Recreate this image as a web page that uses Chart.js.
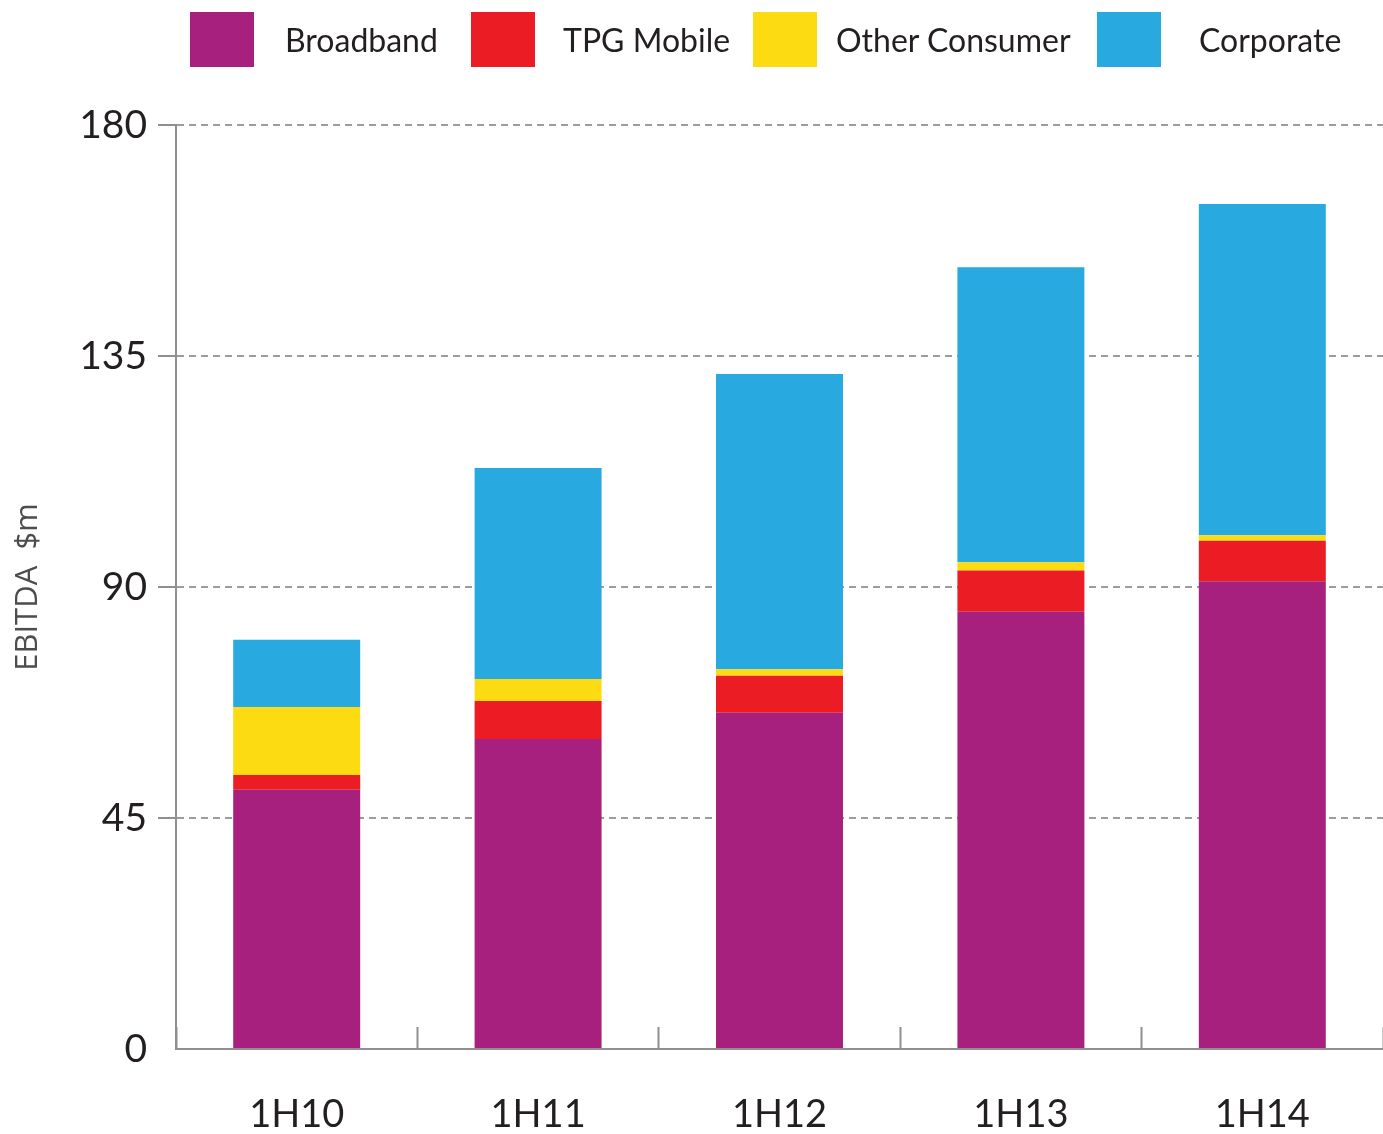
<!DOCTYPE html>
<html>
<head>
<meta charset="utf-8">
<script src="https://cdn.jsdelivr.net/npm/chart.js@4.4.0/dist/chart.umd.min.js"></script>
<style>
  body { margin: 0; background: #fff; }
  #wrap { position: relative; width: 1383px; height: 1134px; }
  #legend { position: absolute; left: 0; top: 0; width: 1383px; height: 80px; font-family: Lato, sans-serif; font-size: 32px; color: #231f20; }
  .sw { position: absolute; top: 12px; width: 64px; height: 55px; }
  .lbl { position: absolute; top: 21px; line-height: 38px; white-space: nowrap; }
</style>
</head>
<body>
<div id="wrap">
  <canvas id="chart" width="1383" height="1134"></canvas>
  <div id="legend"></div>
</div>
<script>
// EBITDA by segment, $m
const periods = ['1H10', '1H11', '1H12', '1H13', '1H14'];
const broadband = [50.5, 60.4, 65.5, 85.2, 91.1];
const tpgMobile = [2.9, 7.4, 7.2, 8.0, 7.9];
const otherConsumer = [13.2, 4.3, 1.3, 1.6, 1.1];
const corporate = [13.1, 41.1, 57.5, 57.5, 64.5];
const yTicks = [0, 45, 90, 135, 180];

const seriesNames = ['Broadband', 'TPG Mobile', 'Other Consumer', 'Corporate'];
const seriesColors = ['#a8207d', '#ec1c24', '#fddb13', '#28a9e0'];

// legend placement (box left, text left)
const legendBoxX = [190, 471, 753, 1097];
const legendTextX = [285, 563, 836, 1199];

const legend = document.getElementById('legend');
seriesNames.forEach((name, i) => {
  const sw = document.createElement('div');
  sw.className = 'sw';
  sw.style.left = legendBoxX[i] + 'px';
  sw.style.background = seriesColors[i];
  legend.appendChild(sw);
  const t = document.createElement('div');
  t.className = 'lbl';
  t.style.left = legendTextX[i] + 'px';
  t.textContent = name;
  legend.appendChild(t);
});

const gray = '#8f8f8f';
const allSeries = [broadband, tpgMobile, otherConsumer, corporate];

new Chart(document.getElementById('chart'), {
  type: 'bar',
  data: {
    labels: periods,
    datasets: allSeries.map((d, i) => ({
      label: seriesNames[i],
      data: d,
      backgroundColor: seriesColors[i],
      borderWidth: 0,
      barPercentage: 1,
      categoryPercentage: 0.526
    }))
  },
  options: {
    responsive: false,
    animation: false,
    layout: { padding: { top: 125, right: 0, bottom: 0, left: 0 } },
    plugins: {
      legend: { display: false },
      tooltip: { enabled: false }
    },
    scales: {
      x: {
        stacked: true,
        afterFit: s => { s.height = 85; },
        grid: {
          offset: true,
          drawOnChartArea: false,
          tickLength: -22,
          tickColor: gray,
          tickWidth: 2
        },
        border: { color: gray, width: 2 },
        ticks: {
          color: '#231f20',
          padding: 65,
          font: { family: 'Lato', size: 38 }
        }
      },
      y: {
        stacked: true,
        min: 0,
        max: 180,
        afterFit: s => { s.width = 176; },
        afterBuildTicks: s => { s.ticks = yTicks.map(v => ({ value: v })); },
        grid: {
          color: ctx => ctx.tick && ctx.tick.value === 0 ? 'rgba(0,0,0,0)' : '#9c9c9c',
          lineWidth: 2,
          tickLength: 18,
          tickColor: ctx => ctx.tick && ctx.tick.value === 0 ? 'rgba(0,0,0,0)' : gray,
          tickWidth: 2
        },
        border: { color: gray, width: 2, dash: [7, 5] },
        ticks: {
          color: '#231f20',
          padding: 11,
          font: { family: 'Lato', size: 39 }
        },
        title: {
          display: true,
          text: 'EBITDA  $m',
          color: '#4d4d4d',
          padding: { top: 10, bottom: 0 },
          font: { family: 'Open Sans', size: 31 }
        }
      }
    }
  }
});
</script>
</body>
</html>
